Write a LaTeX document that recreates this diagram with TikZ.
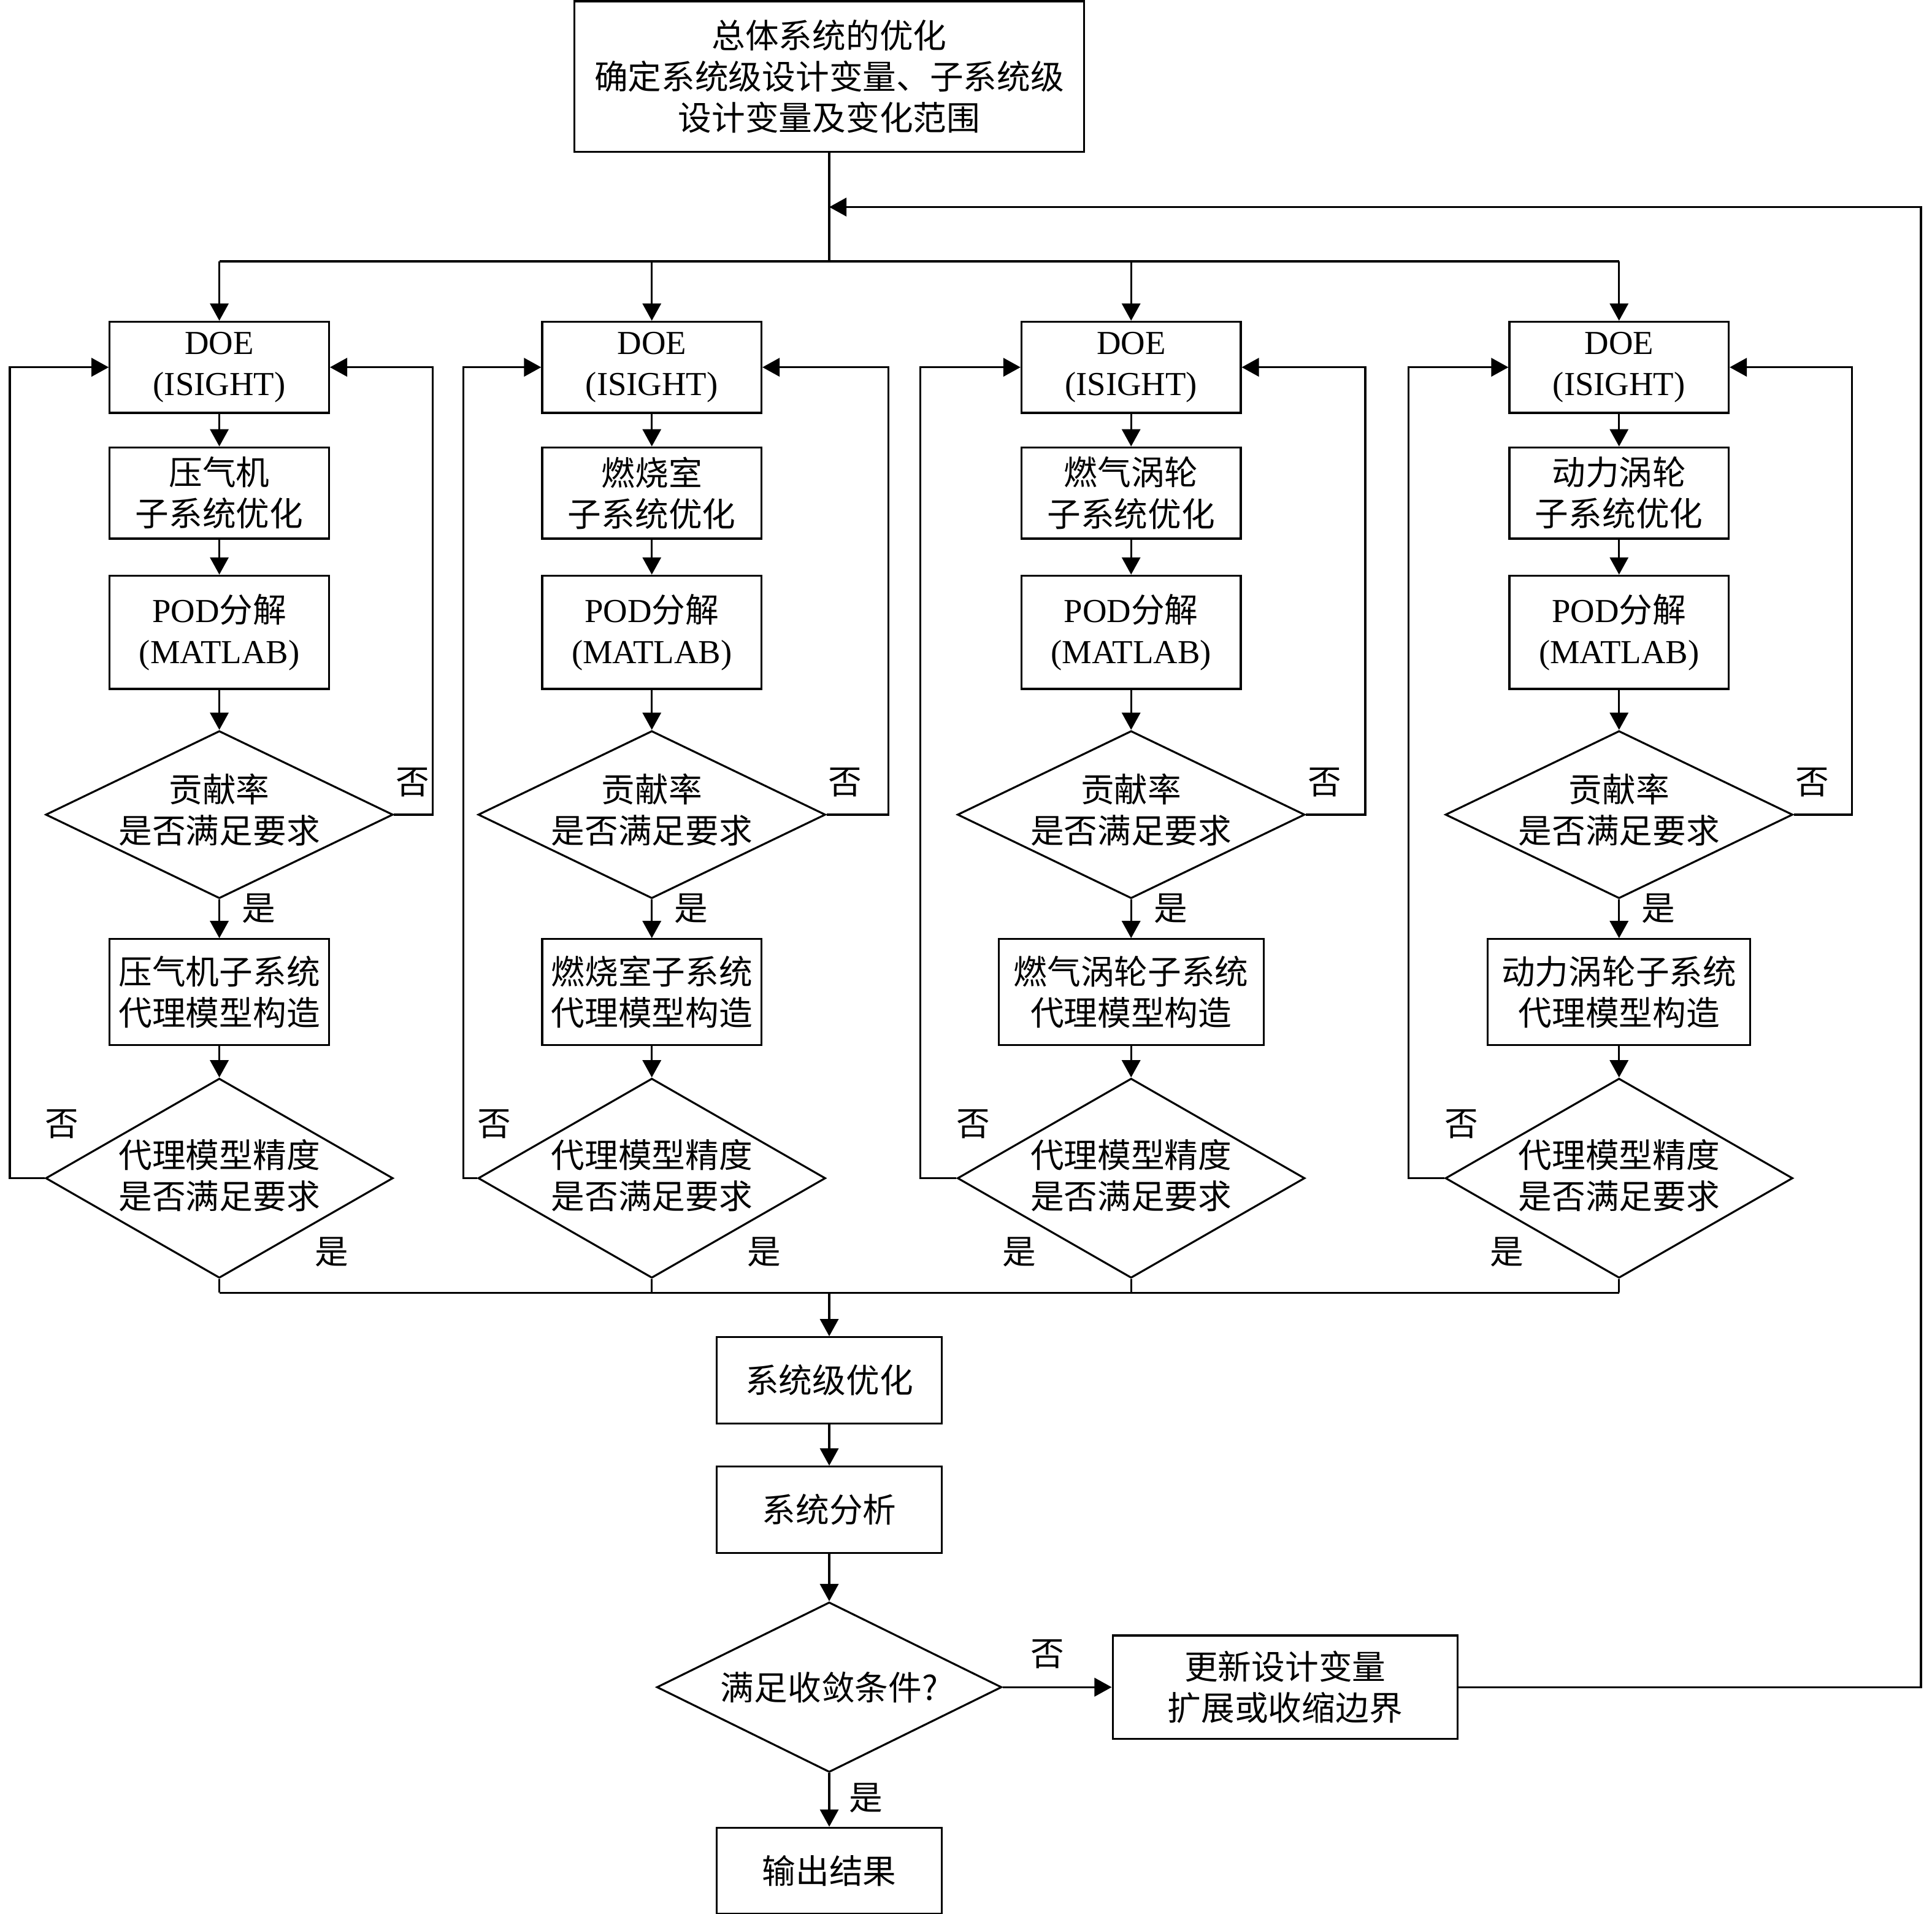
\documentclass[tikz,border=0pt]{standalone}
\usepackage{fontspec}
\setmainfont{Liberation Serif}
\newfontfamily\cjk{Noto Sans CJK SC}
\usetikzlibrary{shapes.geometric,arrows.meta,positioning}

\begin{document}
\begin{tikzpicture}[
  x=0.02cm, y=-0.02cm,
  line width=0.9pt,
  font=\cjk\fontsize{15.5}{19}\selectfont,
  box/.style={
    draw,
    rectangle,
    align=center,
    inner sep=0pt,
    minimum width=#1,
    minimum height=1.48cm
    },
  box/.default=3.56cm,
  decide/.style={
    draw,
    diamond,
    inner sep=0pt,
    minimum width=5.64cm,
    minimum height=#1
    },
  lbl/.style={inner sep=1pt},
  arr/.style={-{Triangle[length=0.28cm,width=0.3cm]}}
]
\useasboundingbox (0,0) rectangle (1568,1553);

% top box
\node[box=8.28cm, minimum height=2.44cm] (top) at (673,62)
  {总体系统的优化\\确定系统级设计变量、子系统级\\设计变量及变化范围};
\coordinate (split) at (673,212);
\coordinate (back) at (673,168);
\coordinate (join) at (673,1049);

% four subsystem columns
\foreach \i/\cx/\xl/\xr/\ws/\sname/\sgn in {
  1/178/8/351/3.56cm/压气机/1,
  2/529/376/721/3.56cm/燃烧室/1,
  3/918/747/1108/4.30cm/燃气涡轮/-1,
  4/1314/1143/1503/4.26cm/动力涡轮/-1}
{
  \node[box] (doe\i) at (\cx,298) {\rmfamily DOE\\\rmfamily (ISIGHT)};
  \node[box] (sub\i) at (\cx,400) {\sname\\子系统优化};
  \node[box, minimum height=1.84cm] (pod\i) at (\cx,513) {{\rmfamily POD}分解\\\rmfamily (MATLAB)};
  \node[decide=2.72cm, label={[align=center, yshift=0.08cm]center:{贡献率\\是否满足要求}}] (con\i) at (\cx,661) {};
  \node[box=\ws, minimum height=1.72cm] (surr\i) at (\cx,805) {\sname 子系统\\代理模型构造};
  \node[decide=3.24cm, label={[align=center, yshift=0.04cm]center:{代理模型精度\\是否满足要求}}] (acc\i) at (\cx,956) {};

  \node[lbl] (noa\i) at (\cx+157,635) {否};
  \node[lbl] (yesa\i) at (\cx+32,737) {是};
  \node[lbl] (nob\i) at (\cx-128,912) {否};
  \node[lbl] (yesb\i) at (\cx+\sgn*91,1016) {是};

  \draw[arr] (doe\i.north |- split) -- (doe\i);
  \draw[arr] (doe\i) -- (sub\i);
  \draw[arr] (sub\i) -- (pod\i);
  \draw[arr] (pod\i) -- (con\i);
  \draw[arr] (con\i) -- (surr\i);
  \draw[arr] (surr\i) -- (acc\i);
  \draw[arr] (con\i.east) -- (\xr,661) |- (doe\i.east);
  \draw[arr] (acc\i.west) -- (\xl,956) |- (doe\i.west);
  \draw (acc\i.south) -- (acc\i.south |- join);
}

\draw (top) -- (split);
\draw (doe1.north |- split) -- (doe4.north |- split);
\draw (acc1.south |- join) -- (acc4.south |- join);

% system level
\node[box=3.66cm, minimum height=1.40cm] (sysopt) at (673,1120) {系统级优化};
\node[box=3.66cm, minimum height=1.40cm] (sysana) at (673,1225) {系统分析};
\node[decide=2.76cm, minimum width=5.60cm, label={center:满足收敛条件?}] (conv) at (673,1369) {};
\node[box=5.60cm, minimum height=1.68cm] (update) at (1043,1369) {更新设计变量\\扩展或收缩边界};
\node[box=3.66cm, minimum height=1.40cm] (output) at (673,1518) {输出结果};
\node[lbl] (nofin) at (850,1342) {否};
\node[lbl] (yesfin) at (703,1459) {是};

\draw[arr] (join) -- (sysopt);
\draw[arr] (sysopt) -- (sysana);
\draw[arr] (sysana) -- (conv);
\draw[arr] (conv) -- (update);
\draw[arr] (conv) -- (output);
\draw[arr] (update.east) -| (1559,168) -- (back);

\end{tikzpicture}
\end{document}
